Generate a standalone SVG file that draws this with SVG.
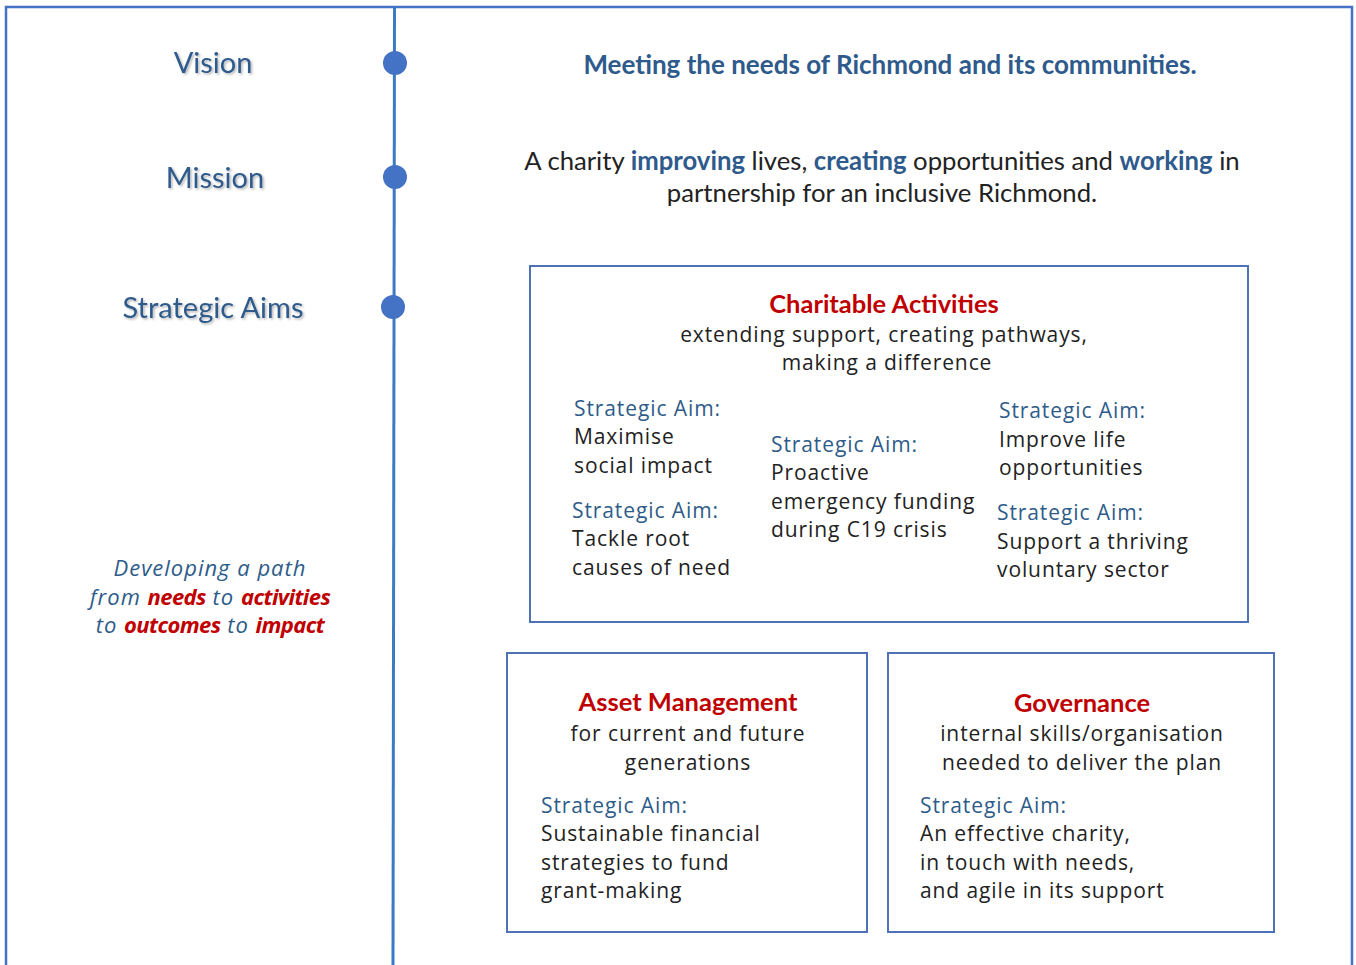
<svg xmlns="http://www.w3.org/2000/svg" width="1356" height="965" viewBox="0 0 1356 965">
<defs>
<filter id="sh" x="-10%" y="-20%" width="130%" height="150%">
<feDropShadow dx="1.5" dy="1.5" stdDeviation="1" flood-color="#000" flood-opacity="0.3"/>
</filter>
</defs>
<style>
.frame{fill:none;stroke:#4472C4;stroke-width:2.5}
.box{fill:#fff;stroke:#4F71B5;stroke-width:2}
.dot{fill:#4472C4}
.tl{font-family:Lato,"Liberation Sans",sans-serif;font-size:29px;fill:#2E5A8C;text-anchor:middle;filter:url(#sh)}
.cal{font-family:Lato,"Liberation Sans",sans-serif;font-size:25.7px;fill:#222}
.hb{font-family:Lato,"Liberation Sans",sans-serif;font-weight:bold;fill:#2E5A8C}
.red{font-family:Lato,"Liberation Sans",sans-serif;font-weight:bold;font-size:25.5px;fill:#C00000;text-anchor:middle}
.g{font-family:"Open Sans","Liberation Sans",sans-serif;font-size:21px;letter-spacing:0.9px;fill:#222}
.sa{fill:#2E5C8A}
.c{text-anchor:middle}
.it{font-family:"Open Sans","Liberation Sans",sans-serif;font-style:italic;font-size:22px;letter-spacing:1px;fill:#2E5C8A;text-anchor:middle}
.ir{fill:#C00000;font-weight:bold;letter-spacing:-0.6px}
</style>
<rect x="0" y="0" width="1356" height="965" fill="#fff"/>
<g id="connectors">
<path class="frame" d="M6,970 V7 H1352 V970"/>
<line x1="394.5" y1="7" x2="393" y2="970" stroke="#3B7BC4" stroke-width="3"/>
</g>
<g id="vision">
<circle class="dot" cx="395" cy="63" r="12"/>
<text class="tl" x="213" y="73">Vision</text>
<text class="hb" x="890" y="74" font-size="26" text-anchor="middle">Meeting the needs of Richmond and its communities.</text>
</g>
<g id="mission">
<circle class="dot" cx="395" cy="177" r="12"/>
<text class="tl" x="215" y="188">Mission</text>
<text class="cal" x="882" y="170" text-anchor="middle">A charity <tspan class="hb">improving</tspan> lives, <tspan class="hb">creating</tspan> opportunities and <tspan class="hb">working</tspan> in</text>
<text class="cal" x="882" y="202" text-anchor="middle">partnership for an inclusive Richmond.</text>
</g>
<g id="strategic-aims">
<circle class="dot" cx="393" cy="307" r="12"/>
<text class="tl" x="213" y="318">Strategic Aims</text>
</g>
<g id="path-note">
<text class="it" x="210" y="576">Developing a path</text>
<text class="it" x="210" y="605">from <tspan class="ir">needs</tspan> to <tspan class="ir">activities</tspan></text>
<text class="it" x="210" y="633">to <tspan class="ir">outcomes</tspan> to <tspan class="ir">impact</tspan></text>
</g>
<g id="charitable-activities">
<rect class="box" x="530" y="266" width="718" height="356"/>
<text class="red" x="884" y="313">Charitable Activities</text>
<text class="g c" x="884" y="342">extending support, creating pathways,</text>
<text class="g c" x="887" y="370">making a difference</text>
<text class="g" x="574" y="416"><tspan class="sa">Strategic Aim:</tspan><tspan x="574" dy="28">Maximise</tspan><tspan x="574" dy="29">social impact</tspan></text>
<text class="g" x="572" y="518"><tspan class="sa">Strategic Aim:</tspan><tspan x="572" dy="28">Tackle root</tspan><tspan x="572" dy="29">causes of need</tspan></text>
<text class="g" x="771" y="452"><tspan class="sa">Strategic Aim:</tspan><tspan x="771" dy="28">Proactive</tspan><tspan x="771" dy="29">emergency funding</tspan><tspan x="771" dy="28">during C19 crisis</tspan></text>
<text class="g" x="999" y="418"><tspan class="sa">Strategic Aim:</tspan><tspan x="999" dy="29">Improve life</tspan><tspan x="999" dy="28">opportunities</tspan></text>
<text class="g" x="997" y="520"><tspan class="sa">Strategic Aim:</tspan><tspan x="997" dy="29">Support a thriving</tspan><tspan x="997" dy="28">voluntary sector</tspan></text>
</g>
<g id="asset-management">
<rect class="box" x="507" y="653" width="360" height="279"/>
<text class="red" x="688" y="711">Asset Management</text>
<text class="g c" x="688" y="741">for current and future</text>
<text class="g c" x="688" y="770">generations</text>
<text class="g" x="541" y="813"><tspan class="sa">Strategic Aim:</tspan><tspan x="541" dy="28">Sustainable financial</tspan><tspan x="541" dy="29">strategies to fund</tspan><tspan x="541" dy="28">grant-making</tspan></text>
</g>
<g id="governance">
<rect class="box" x="888" y="653" width="386" height="279"/>
<text class="red" x="1082" y="712">Governance</text>
<text class="g c" x="1082" y="741">internal skills/organisation</text>
<text class="g c" x="1082" y="770">needed to deliver the plan</text>
<text class="g" x="920" y="813"><tspan class="sa">Strategic Aim:</tspan><tspan x="920" dy="28">An effective charity,</tspan><tspan x="920" dy="29">in touch with needs,</tspan><tspan x="920" dy="28">and agile in its support</tspan></text>
</g>
</svg>
